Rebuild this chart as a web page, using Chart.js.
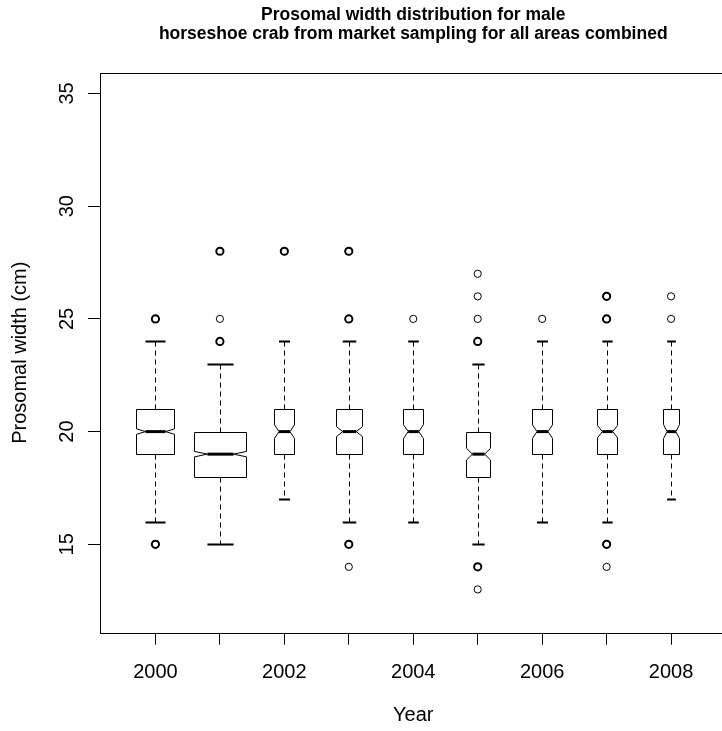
<!DOCTYPE html>
<html lang="en">
<head>
  <meta charset="UTF-8">
  <title>Prosomal width distribution for male horseshoe crab</title>
  <!-- Chart.js for the plot -->
  <script src="https://cdn.jsdelivr.net/npm/chart.js@4.4.1/dist/chart.umd.min.js"></script>
  <style>
    html, body {
      margin: 0;
      padding: 0;
      background: #fff;
      overflow: hidden;
    }
    .chart-container {
      position: relative;
      width: 740px;
      height: 731px;
    }
  </style>
</head>
<body>
  <div class="chart-container">
    <canvas id="boxChart"></canvas>
  </div>

  <script>
    // Box plot summaries (cm)
    const years = [2000, 2001, 2002, 2003, 2004, 2005, 2006, 2007, 2008];
    const lowerWhisker = [16, 15, 17, 16, 16, 15, 16, 16, 17];
    const lowerHinge   = [19, 18, 19, 19, 19, 18, 19, 19, 19];
    const medians      = [20, 19, 20, 20, 20, 19, 20, 20, 20];
    const upperHinge   = [21, 20, 21, 21, 21, 20, 21, 21, 21];
    const upperWhisker = [24, 23, 24, 24, 24, 23, 24, 24, 24];
    // half height of the notch around the median
    const notchHalf    = [0.12, 0.12, 0.30, 0.22, 0.31, 0.26, 0.30, 0.27, 0.31];
    // box widths (varwidth), in years
    const boxWidths    = [0.62, 0.81, 0.34, 0.42, 0.33, 0.38, 0.34, 0.32, 0.27];
    // outliers; a repeated value means several crabs at that width
    const outliers = [
      [25, 25, 15, 15],
      [28, 28, 25, 24, 24],
      [28, 28],
      [28, 28, 25, 25, 15, 15, 14],
      [25],
      [27, 26, 25, 24, 24, 14, 14, 13],
      [25],
      [26, 26, 25, 25, 15, 15, 14],
      [26, 25]
    ];
    const yTicks = [15, 20, 25, 30, 35];
    const labelledYears = [2000, 2002, 2004, 2006, 2008];
    const yRange = [11.08, 35.92];
    const xRange = [1999.14, 2008.86];

    const fontFamily = '"Liberation Sans", Arial, Helvetica, sans-serif';

    // one point per distinct outlier value, thicker ring when repeated
    const outlierPoints = [];
    const outlierWidths = [];
    years.forEach((yr, i) => {
      const counts = {};
      outliers[i].forEach(v => { counts[v] = (counts[v] || 0) + 1; });
      Object.keys(counts).forEach(v => {
        outlierPoints.push({ x: yr, y: Number(v) });
        outlierWidths.push(counts[v] > 1 ? 2 : 1);
      });
    });

    function line(ctx, x1, y1, x2, y2) {
      ctx.beginPath();
      ctx.moveTo(x1, y1);
      ctx.lineTo(x2, y2);
      ctx.stroke();
    }

    // Notched boxes, whiskers and the plot frame
    const boxPlugin = {
      id: 'notchedBoxes',
      beforeDatasetsDraw(chart) {
        const { ctx, chartArea, scales: { x, y } } = chart;
        ctx.save();
        ctx.strokeStyle = '#000';
        years.forEach((yr, i) => {
          const cx = Math.round(x.getPixelForValue(yr)) + 0.5;
          const hw = x.getPixelForValue(yr + boxWidths[i] / 2) - x.getPixelForValue(yr);
          const q1 = Math.round(y.getPixelForValue(lowerHinge[i])) + 0.5;
          const q3 = Math.round(y.getPixelForValue(upperHinge[i])) + 0.5;
          const med = y.getPixelForValue(medians[i]);
          const lw = Math.round(y.getPixelForValue(lowerWhisker[i])) + 0.5;
          const uw = Math.round(y.getPixelForValue(upperWhisker[i])) + 0.5;
          const nLo = y.getPixelForValue(medians[i] - notchHalf[i]);
          const nHi = y.getPixelForValue(medians[i] + notchHalf[i]);
          const l = Math.round(cx - hw) + 0.5;
          const r = Math.round(cx + hw) - 0.5;

          // dashed whiskers
          ctx.lineWidth = 1;
          ctx.setLineDash([5, 4]);
          line(ctx, cx, q3, cx, uw);
          line(ctx, cx, q1, cx, lw);
          ctx.setLineDash([]);

          // staples
          ctx.lineWidth = 2;
          line(ctx, cx - hw / 2, uw, cx + hw / 2, uw);
          line(ctx, cx - hw / 2, lw, cx + hw / 2, lw);

          // notched box
          ctx.lineWidth = 1;
          ctx.beginPath();
          ctx.moveTo(l, q1);
          ctx.lineTo(l, nLo);
          ctx.lineTo(cx - hw / 2, med);
          ctx.lineTo(l, nHi);
          ctx.lineTo(l, q3);
          ctx.lineTo(r, q3);
          ctx.lineTo(r, nHi);
          ctx.lineTo(cx + hw / 2, med);
          ctx.lineTo(r, nLo);
          ctx.lineTo(r, q1);
          ctx.closePath();
          ctx.stroke();

          // median
          ctx.lineWidth = 3;
          line(ctx, cx - hw / 2, med, cx + hw / 2, med);
        });

        // frame round the plot region
        ctx.lineWidth = 1;
        ctx.strokeRect(Math.round(chartArea.left) + 0.5, Math.round(chartArea.top) + 0.5,
          Math.round(chartArea.width), Math.round(chartArea.height));
        ctx.restore();
      }
    };

    new Chart(document.getElementById('boxChart'), {
      type: 'scatter',
      data: {
        datasets: [{
          label: 'Outliers',
          data: outlierPoints,
          pointStyle: 'circle',
          pointRadius: 3.6,
          pointHoverRadius: 3.6,
          borderColor: '#000',
          backgroundColor: 'rgba(0,0,0,0)',
          pointBorderWidth: outlierWidths
        }]
      },
      options: {
        responsive: true,
        maintainAspectRatio: false,
        animation: false,
        devicePixelRatio: 1,
        layout: { padding: { left: 0, right: 13.5, top: 0, bottom: 0 } },
        plugins: {
          legend: { display: false },
          tooltip: { enabled: false },
          title: {
            display: true,
            fullSize: false,
            text: ['Prosomal width distribution for male',
                   'horseshoe crab from market sampling for all areas combined'],
            color: '#000',
            font: { family: fontFamily, size: 17.5, weight: 'bold', lineHeight: 1.08 },
            padding: { top: 6, bottom: 28.9 }
          }
        },
        scales: {
          x: {
            type: 'linear',
            min: xRange[0],
            max: xRange[1],
            afterFit: s => { s.height = 98.3; },
            afterBuildTicks: s => { s.ticks = years.map(v => ({ value: v })); },
            border: { display: false },
            grid: { drawOnChartArea: false, drawTicks: true, tickLength: 12, tickColor: '#000', lineWidth: 1 },
            ticks: {
              autoSkip: false,
              maxRotation: 0,
              padding: 16,
              color: '#000',
              font: { family: fontFamily, size: 20 },
              callback: v => labelledYears.includes(v) ? String(v) : ''
            },
            title: {
              display: true,
              text: 'Year',
              color: '#000',
              font: { family: fontFamily, size: 20 },
              padding: { top: 0, bottom: 4 }
            }
          },
          y: {
            min: yRange[0],
            max: yRange[1],
            afterFit: s => { s.width = 100; },
            afterBuildTicks: s => { s.ticks = yTicks.map(v => ({ value: v })); },
            border: { display: false },
            grid: { drawOnChartArea: false, drawTicks: true, tickLength: 12, tickColor: '#000', lineWidth: 1 },
            ticks: {
              autoSkip: false,
              minRotation: 90,
              maxRotation: 90,
              crossAlign: 'center',
              padding: 9,
              color: '#000',
              font: { family: fontFamily, size: 20 }
            },
            title: {
              display: true,
              text: 'Prosomal width (cm)',
              color: '#000',
              font: { family: fontFamily, size: 20 },
              padding: { top: 8, bottom: 0 }
            }
          }
        }
      },
      plugins: [boxPlugin]
    });
  </script>
</body>
</html>
